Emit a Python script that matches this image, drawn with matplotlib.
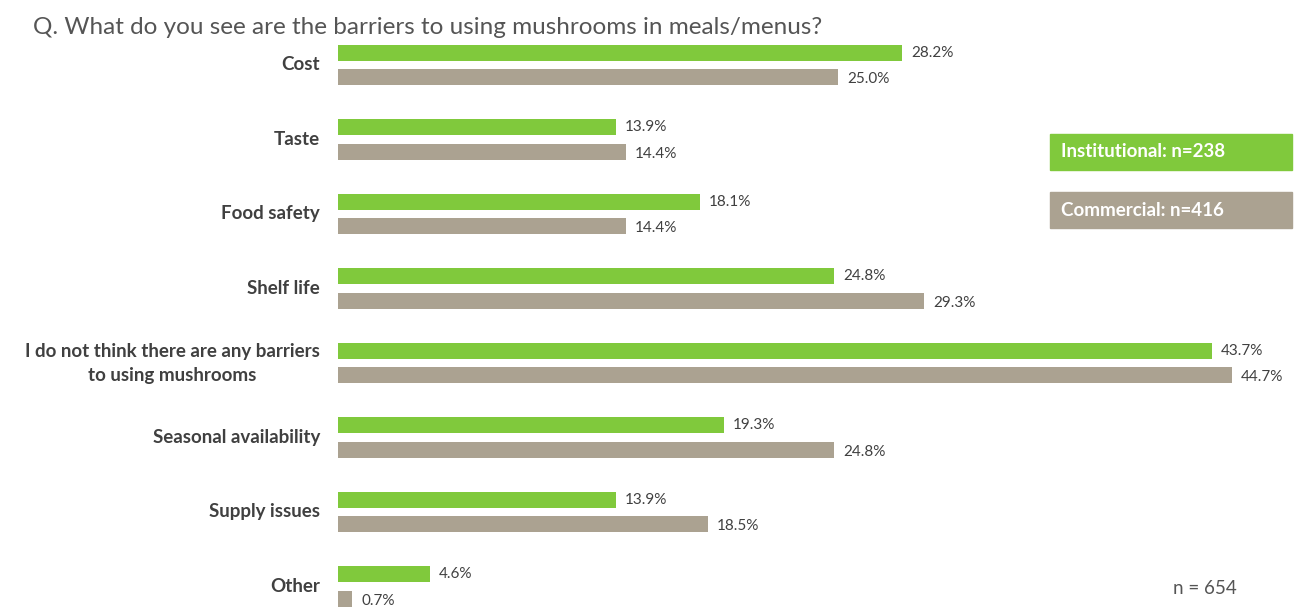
import matplotlib.pyplot as plt
from matplotlib.patches import Rectangle

categories = ["Cost", "Taste", "Food safety", "Shelf life",
              "I do not think there are any barriers\nto using mushrooms",
              "Seasonal availability", "Supply issues", "Other"]
institutional = [28.2, 13.9, 18.1, 24.8, 43.7, 19.3, 13.9, 4.6]
commercial = [25.0, 14.4, 14.4, 29.3, 44.7, 24.8, 18.5, 0.7]
series_names = ["Institutional: n=238", "Commercial: n=416"]

GREEN = "#80c93c"
GRAY = "#aba291"
TXT = "#404040"
W, H = 1297, 607

plt.rcParams['font.family'] = ['Lato', 'DejaVu Sans']
fig = plt.figure(figsize=(W / 100, H / 100), dpi=100)
fig.patch.set_facecolor("white")

# axes starts at the bars' left edge and fills the full height
ax = fig.add_axes([338 / W, 0, 1 - 338 / W, 1])
ax.set_xlim(0, (W - 338) / 20.0)
ax.set_ylim((H - 65) / 74.5, -65 / 74.5)
ax.axis("off")

off = 0.162
h = 0.215
for i, (a, b) in enumerate(zip(institutional, commercial)):
    ax.barh(i - off, a, height=h, color=GREEN)
    ax.barh(i + off, b, height=h, color=GRAY)
    ax.text(a + 0.45, i - off, f"{a:.1f}%", va="center", ha="left",
            fontsize=11, color=TXT)
    ax.text(b + 0.45, i + off + 0.03, f"{b:.1f}%", va="center", ha="left",
            fontsize=11, color=TXT)
    ax.text(-0.9, i, categories[i], va="center", ha="right", fontsize=13.5,
            fontweight="bold", color=TXT, linespacing=1.5,
            multialignment="center")

fig.text(33 / W, 1 - 27 / H,
         "Q. What do you see are the barriers to using mushrooms in meals/menus?",
         fontsize=17.5, color="#555555", va="center", ha="left")

# legend boxes
for (y0, y1), col, name in [((134, 170), GREEN, series_names[0]),
                            ((192, 228), GRAY, series_names[1])]:
    fig.patches.append(Rectangle((1050 / W, 1 - y1 / H), 242 / W, (y1 - y0) / H,
                                 transform=fig.transFigure, color=col))
    fig.text(1061 / W, 1 - (y0 + y1) / 2 / H, name, fontsize=13.5,
             fontweight="bold", color="white", va="center", ha="left")

fig.text(1205 / W, 1 - 588 / H, "n = 654", fontsize=13.5, color="#555555",
         va="center", ha="center")

fig.savefig("out.png", dpi=100)
